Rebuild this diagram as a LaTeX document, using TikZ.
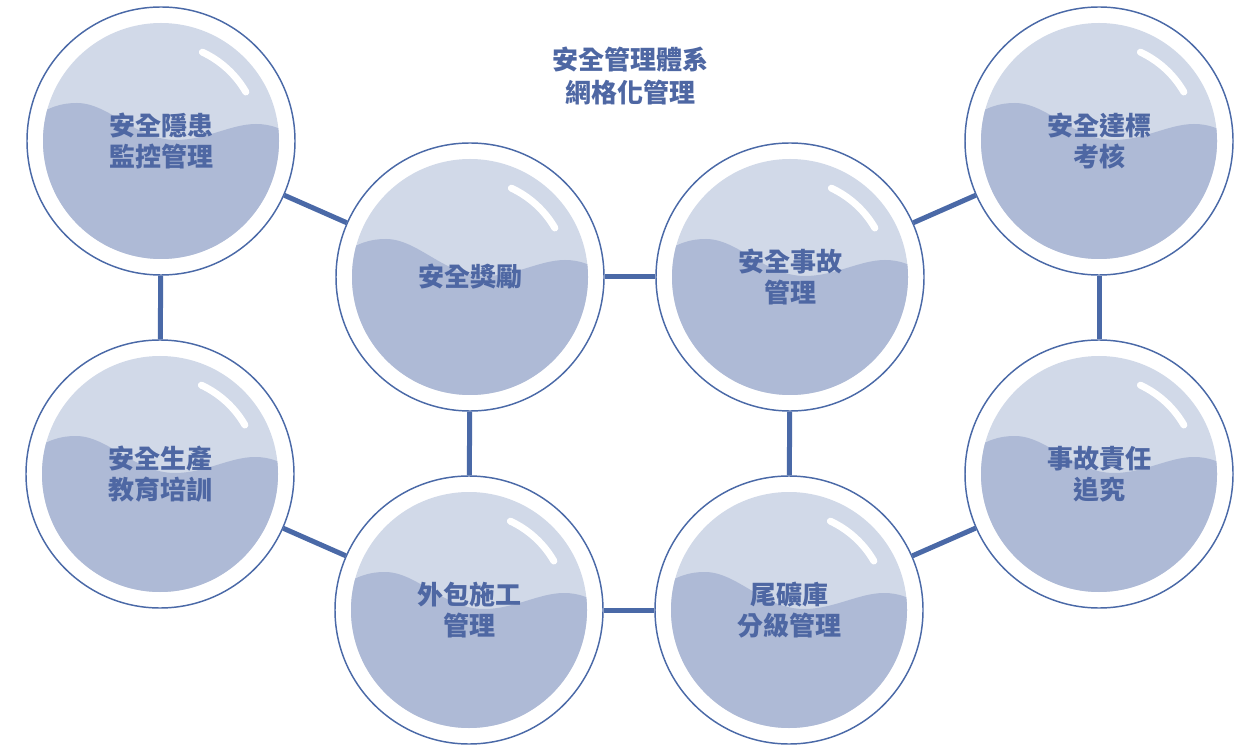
\documentclass[tikz,border=0pt]{standalone}
\usepackage{fontspec}
\newfontfamily\tcfont{Noto Sans CJK TC}
\usetikzlibrary{positioning, backgrounds}

\definecolor{lineblue}{HTML}{4A69A7}
\definecolor{textblue}{HTML}{4E67A3}
\definecolor{glasslight}{HTML}{D1D9E8}
\definecolor{glasswave}{HTML}{AEBAD6}

\tikzset{
  bubble/.style={circle, draw=lineblue, line width=1.1pt, minimum size=201pt, inner sep=0pt,
    text=textblue, align=center, font=\tcfont\bfseries\fontsize{19.5pt}{23.5pt}\selectfont},
  glass/.pic={
        \fill[glasslight] (0,0) circle (118);
        \begin{scope}
          \clip (0,0) circle (118);
          \fill[glasswave] (-130,22) .. controls (-112,34) and (-100,38) .. (-84,38)
            .. controls (-52,38) and (-25,1) .. (15,1)
            .. controls (45,1) and (70,17) .. (95,17)
            .. controls (110,17) and (122,12) .. (130,5)
            -- (130,-130) -- (-130,-130) -- cycle;
        \end{scope}
        \draw[white, line width=5.25pt, line cap=round] (65:98) arc[start angle=65, end angle=30, radius=98];
  },
  title/.style={text=textblue, align=center, font=\tcfont\bfseries\fontsize{19.5pt}{24.75pt}\selectfont},
  link/.style={draw=lineblue, line width=3.75pt}
}

\begin{document}
\begin{tikzpicture}[x=0.75pt, y=0.75pt]
        \useasboundingbox (0,0) rectangle (1256,747);

        \node[title] (title) at (630,671) {安全管理體系\\網格化管理};

        \node[bubble] (hazard) at (161,606) {安全隱患\\監控管理};
        \node[bubble] (training) at (160,273) {安全生產\\教育培訓};
        \node[bubble] (reward) at (470,470) {安全獎勵};
        \node[bubble] (contract) at (469,137) {外包施工\\管理};
        \node[bubble] (accident) at (790,470) {安全事故\\管理};
        \node[bubble] (tailings) at (789,137) {尾礦庫\\分級管理};
        \node[bubble] (standard) at (1099,606) {安全達標\\考核};
        \node[bubble] (liability) at (1099,273) {事故責任\\追究};

        % glass fill behind the text
        \begin{scope}[on background layer]
          \foreach \b in {hazard, training, reward, contract, accident, tailings, standard, liability}
            \pic at (\b) {glass};
        \end{scope}

          \path[link] (hazard) edge (training)
                               edge (reward)
                      (training) edge (contract)
                      (reward) edge (contract)
                               edge (accident)
                      (contract) edge (tailings)
                      (accident) edge (tailings)
                                 edge (standard)
                      (tailings) edge (liability)
                      (standard) edge (liability);
    \end{tikzpicture}
\end{document}
